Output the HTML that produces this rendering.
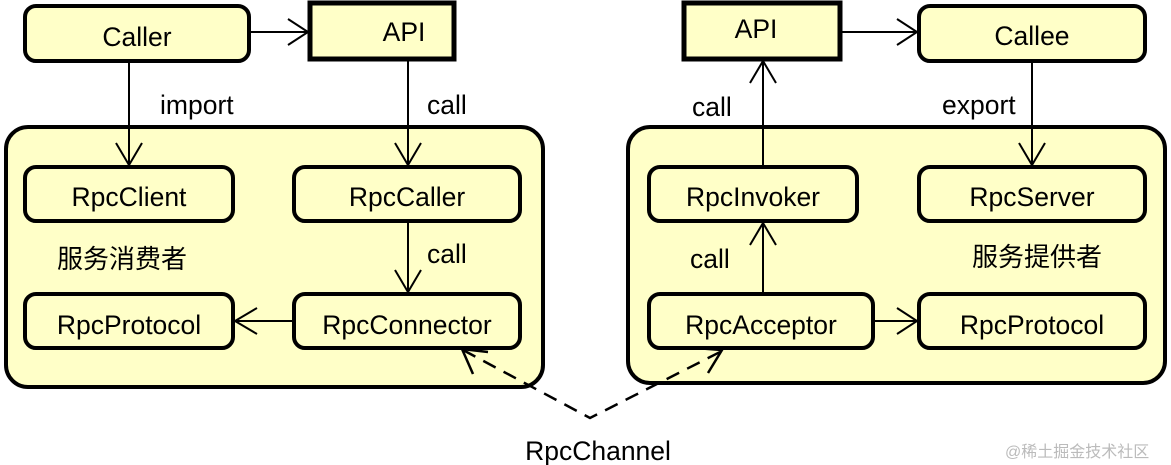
<!DOCTYPE html>
<html><head><meta charset="utf-8"><style>
html,body{margin:0;padding:0;background:#fff;width:1171px;height:465px;overflow:hidden}
text{font-family:"Liberation Sans","Noto Sans CJK SC",sans-serif;font-size:26.5px;fill:#000}
</style></head><body>
<svg width="1171" height="465" viewBox="0 0 1171 465" xmlns="http://www.w3.org/2000/svg">
<g fill="#ffffc8" stroke="#000">
<rect x="6" y="127" width="537" height="260" rx="22" stroke-width="4"/>
<rect x="628" y="127" width="537" height="256" rx="22" stroke-width="4"/>
<rect x="25" y="6" width="224" height="55" rx="11" stroke-width="4"/>
<rect x="310" y="3" width="144" height="56" stroke-width="5"/>
<rect x="684" y="3" width="156" height="56" stroke-width="5"/>
<rect x="919" y="6" width="226" height="55" rx="11" stroke-width="4"/>
<rect x="25" y="167" width="208" height="54" rx="11" stroke-width="4"/>
<rect x="294" y="167" width="226" height="54" rx="11" stroke-width="4"/>
<rect x="25" y="294" width="208" height="54" rx="11" stroke-width="4"/>
<rect x="294" y="294" width="226" height="54" rx="11" stroke-width="4"/>
<rect x="649" y="167" width="208" height="54" rx="11" stroke-width="4"/>
<rect x="919" y="167" width="226" height="54" rx="11" stroke-width="4"/>
<rect x="649" y="294" width="224" height="54" rx="11" stroke-width="4"/>
<rect x="919" y="294" width="226" height="54" rx="11" stroke-width="4"/>
</g>
<g stroke="#000" stroke-width="2" fill="none">
<line x1="251" y1="32" x2="308" y2="32"/><polyline points="288,19 308,32 288,45"/>
<line x1="842" y1="32" x2="917" y2="32"/><polyline points="897,19 917,32 897,45"/>
<line x1="129" y1="63" x2="129" y2="165"/><polyline points="116,143 129,165 142,143"/>
<line x1="408" y1="61" x2="408" y2="165"/><polyline points="395,143 408,165 421,143"/>
<line x1="408" y1="223" x2="408" y2="292"/><polyline points="395,270 408,292 421,270"/>
<line x1="1032" y1="63" x2="1032" y2="165"/><polyline points="1019,143 1032,165 1045,143"/>
<line x1="763" y1="165" x2="763" y2="61"/><polyline points="750,83 763,61 776,83"/>
<line x1="763" y1="292" x2="763" y2="223"/><polyline points="750,245 763,223 776,245"/>
<line x1="292" y1="321" x2="235" y2="321"/><polyline points="257,308 235,321 257,334"/>
<line x1="875" y1="321" x2="917" y2="321"/><polyline points="897,308 917,321 897,334"/>
<path d="M463,350 L590,418 L722,351" stroke-dasharray="14,9" stroke-width="2.5"/>
<polyline points="457,352 463,350 456,352" stroke="none"/>
<polyline points="473,374 462,349 488,352" stroke-width="2.5"/>
<polyline points="695,348 722,350 708,373" stroke-width="2.5"/>
</g>
<text x="160" y="114">import</text>
<text x="427" y="114">call</text>
<text x="427" y="263">call</text>
<text x="692" y="116">call</text>
<text x="942" y="114">export</text>
<text x="690" y="268">call</text>
<text x="57" y="268" style="font-size:26px">服务消费者</text>
<text x="972" y="266" style="font-size:26px">服务提供者</text>
<g text-anchor="middle">
<text x="137" y="46">Caller</text>
<text x="404" y="41">API</text>
<text x="756" y="38">API</text>
<text x="1032" y="45">Callee</text>
<text x="129" y="206">RpcClient</text>
<text x="407" y="206">RpcCaller</text>
<text x="129" y="334">RpcProtocol</text>
<text x="407" y="334">RpcConnector</text>
<text x="753" y="206">RpcInvoker</text>
<text x="1032" y="206">RpcServer</text>
<text x="761" y="334">RpcAcceptor</text>
<text x="1032" y="334">RpcProtocol</text>
<text x="598" y="460">RpcChannel</text>
</g>
<text x="1005" y="457" style="font-size:16px;fill:#bbb">@稀土掘金技术社区</text>
</svg>
</body></html>
